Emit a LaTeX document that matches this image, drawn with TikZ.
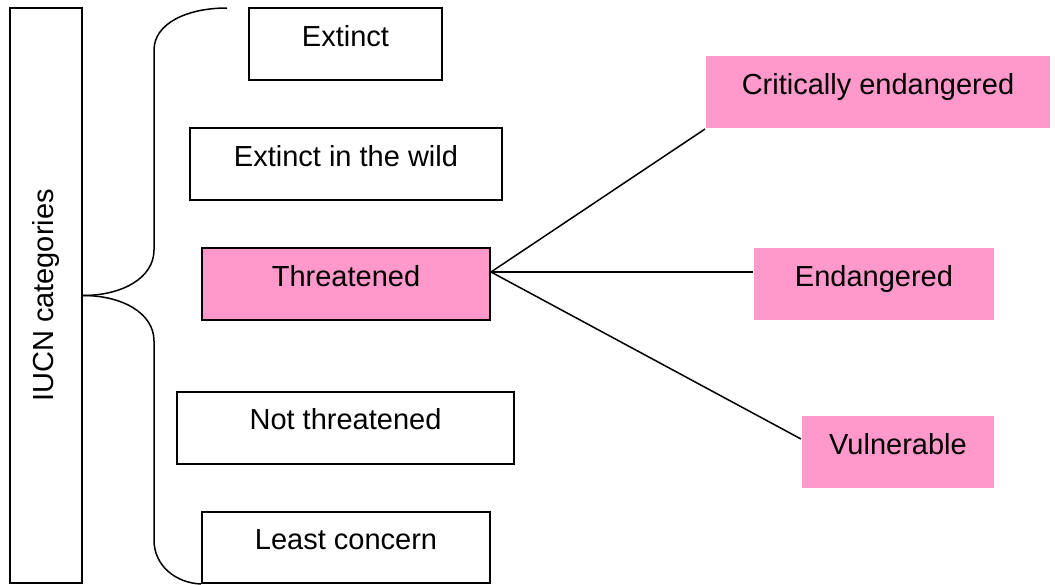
\documentclass[tikz,border=0pt]{standalone}
\usepackage{fontspec}
\setmainfont{Liberation Sans}
\usetikzlibrary{positioning}

\definecolor{catpink}{HTML}{FF99CC}
\tikzset{
  catbox/.style={draw, line width=2pt, inner sep=0pt, text height=20pt, text depth=16pt,
    minimum height=72pt, font=\fontsize{29}{34}\selectfont},
  pinkbox/.style={catbox, fill=catpink},
  subbox/.style={catbox, draw=none, fill=catpink},
  link/.style={line width=1.5pt}
}

\begin{document}
\begin{tikzpicture}[x=1pt,y=-1pt]
      \useasboundingbox (0,0) rectangle (1055,584);

       %draw left box
      \node[draw, line width=2pt, minimum width=72pt, minimum height=575pt, inner sep=0pt]
        (iucn) at (46,295.5) {};
      \node[rotate=90, font=\fontsize{29}{34}\selectfont] (iucnlabel) at (iucn.center) {IUCN categories};

       %draw categories
      \node[catbox, minimum width=193pt] (ext)  at (345.5,44)    {Extinct};
      \node[catbox, minimum width=312pt] (eiw)  at (346,164)     {Extinct in the wild};
      \node[pinkbox, minimum width=288pt] (thr) at (346,284)     {Threatened};
      \node[catbox, minimum width=337pt] (nthr) at (345.5,427.5) {Not threatened};
      \node[catbox, minimum width=288pt, minimum height=71pt] (lc) at (346,547.5) {Least concern};

       %draw threatened subcategories
      \node[subbox, minimum width=344pt] (crit) at (878,92)  {Critically endangered};
      \node[subbox, minimum width=240pt] (endg) at (874,284) {Endangered};
      \node[subbox, minimum width=192pt] (vul)  at (898,452) {Vulnerable};

      % draw brace
      \draw[link] (iucn.east) .. controls (122,295.5) and (154,278) .. (154,250)
        -- (154,50) .. controls (154,24) and (186,8) .. (227,8);
      \draw[link] (iucn.east) .. controls (122,295.5) and (154,313) .. (154,341)
        -- (154,540) .. controls (154,566) and (176,583) .. (lc.south west);

      % draw connectors
      \coordinate (fork) at ([yshift=12pt]thr.east);
      \draw[link] (fork) -- (crit.south west);
      \draw[link] (fork) -- ([yshift=12pt]endg.west);
      \draw[link] (fork) -- ([yshift=13pt]vul.west);
\end{tikzpicture}
\end{document}
